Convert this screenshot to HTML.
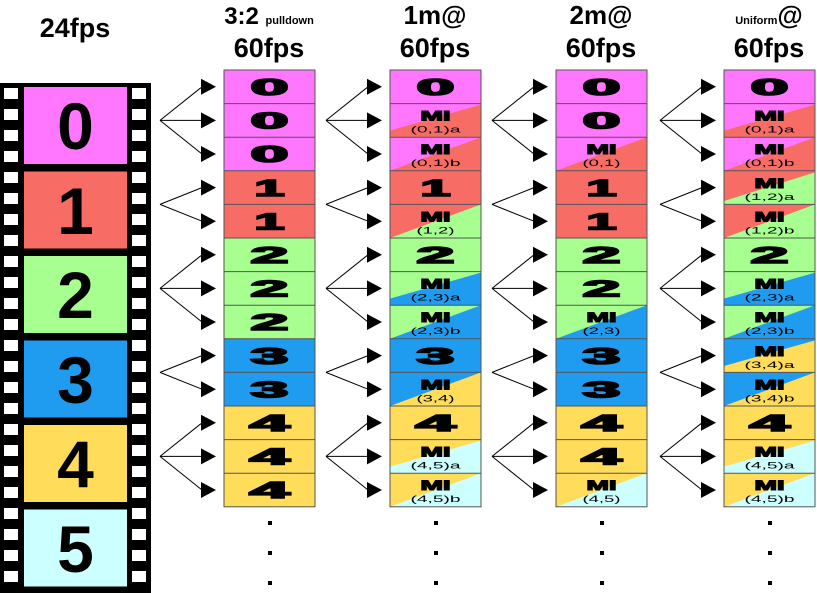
<!DOCTYPE html>
<html><head><meta charset="utf-8"><style>
html,body{margin:0;padding:0;background:#fff;width:817px;height:593px;overflow:hidden}
svg{display:block}
text{font-family:"Liberation Sans",sans-serif;font-weight:bold;text-anchor:middle;fill:#000}
.n{font-size:23px;font-weight:900;stroke:#000;stroke-width:1.6}
.m{font-size:14px;font-weight:900;stroke:#000;stroke-width:1.1}
.s{font-size:9px;font-weight:normal}
.f{font-size:66px}
.t{font-size:27px}
</style></head><body>
<svg width="817" height="593" viewBox="0 0 817 593" xmlns="http://www.w3.org/2000/svg">
<defs>
<g id="f3">
<path d="M0,0 L42,-33.6 M0,0 L42,0 M0,0 L42,33.6" stroke="#000" stroke-width="1" fill="none"/>
<path d="M41,-41.6 L56,-33.6 L41,-25.6 Z M41,-8 L56,0 L41,8 Z M41,25.6 L56,33.6 L41,41.6 Z" fill="#000"/>
</g>
<g id="f2">
<path d="M0,0 L42,-16.8 M0,0 L42,16.8" stroke="#000" stroke-width="1" fill="none"/>
<path d="M41,-24.8 L56,-16.8 L41,-8.8 Z M41,8.8 L56,16.8 L41,24.8 Z" fill="#000"/>
</g>
<g id="fans">
<use href="#f3" x="0" y="120.4"/>
<use href="#f2" x="0" y="204.4"/>
<use href="#f3" x="0" y="288.4"/>
<use href="#f2" x="0" y="372.4"/>
<use href="#f3" x="0" y="456.4"/>
</g>
</defs>
<!-- titles -->
<text class="t" x="75" y="37">24fps</text>
<text x="269" y="24"><tspan font-size="24">3:2 </tspan><tspan font-size="11">pulldown</tspan></text>
<text class="t" x="269" y="57">60fps</text>
<text font-size="26" x="435" y="24">1m@</text>
<text class="t" x="435" y="57">60fps</text>
<text font-size="26" x="601" y="24">2m@</text>
<text class="t" x="601" y="57">60fps</text>
<text x="769" y="24"><tspan font-size="11">Uniform</tspan><tspan font-size="26">@</tspan></text>
<text class="t" x="769" y="57">60fps</text>

<!-- film strip -->
<rect x="0" y="83" width="151" height="510" fill="#000"/>
<g fill="#fff">
<rect x="4" y="88" width="14" height="11"/><rect x="4" y="109" width="14" height="11"/><rect x="4" y="130" width="14" height="11"/><rect x="4" y="151" width="14" height="11"/><rect x="4" y="172" width="14" height="11"/><rect x="4" y="193" width="14" height="11"/><rect x="4" y="214" width="14" height="11"/><rect x="4" y="235" width="14" height="11"/><rect x="4" y="256" width="14" height="11"/><rect x="4" y="277" width="14" height="11"/><rect x="4" y="298" width="14" height="11"/><rect x="4" y="319" width="14" height="11"/><rect x="4" y="340" width="14" height="11"/><rect x="4" y="361" width="14" height="11"/><rect x="4" y="382" width="14" height="11"/><rect x="4" y="403" width="14" height="11"/><rect x="4" y="424" width="14" height="11"/><rect x="4" y="445" width="14" height="11"/><rect x="4" y="466" width="14" height="11"/><rect x="4" y="487" width="14" height="11"/><rect x="4" y="508" width="14" height="11"/><rect x="4" y="529" width="14" height="11"/><rect x="4" y="550" width="14" height="11"/><rect x="4" y="571" width="14" height="11"/>
<rect x="132" y="88" width="14" height="11"/><rect x="132" y="109" width="14" height="11"/><rect x="132" y="130" width="14" height="11"/><rect x="132" y="151" width="14" height="11"/><rect x="132" y="172" width="14" height="11"/><rect x="132" y="193" width="14" height="11"/><rect x="132" y="214" width="14" height="11"/><rect x="132" y="235" width="14" height="11"/><rect x="132" y="256" width="14" height="11"/><rect x="132" y="277" width="14" height="11"/><rect x="132" y="298" width="14" height="11"/><rect x="132" y="319" width="14" height="11"/><rect x="132" y="340" width="14" height="11"/><rect x="132" y="361" width="14" height="11"/><rect x="132" y="382" width="14" height="11"/><rect x="132" y="403" width="14" height="11"/><rect x="132" y="424" width="14" height="11"/><rect x="132" y="445" width="14" height="11"/><rect x="132" y="466" width="14" height="11"/><rect x="132" y="487" width="14" height="11"/><rect x="132" y="508" width="14" height="11"/><rect x="132" y="529" width="14" height="11"/><rect x="132" y="550" width="14" height="11"/><rect x="132" y="571" width="14" height="11"/>
</g>
<rect x="24" y="87" width="103" height="77" fill="#ff77ff"/>
<rect x="24" y="171.5" width="103" height="77" fill="#f76d66"/>
<rect x="24" y="256" width="103" height="77" fill="#a6ff8f"/>
<rect x="24" y="340.5" width="103" height="77" fill="#1f9bef"/>
<rect x="24" y="425" width="103" height="77" fill="#ffdc5a"/>
<rect x="24" y="509.5" width="103" height="77" fill="#ccffff"/>
<text class="f" x="75.5" y="149">0</text>
<text class="f" x="75.5" y="234">1</text>
<text class="f" x="75.5" y="318">2</text>
<text class="f" x="75.5" y="403">3</text>
<text class="f" x="75.5" y="487">4</text>
<text class="f" x="75.5" y="572">5</text>

<!-- fans -->
<use href="#fans" x="160" y="0"/>
<use href="#fans" x="326" y="0"/>
<use href="#fans" x="492" y="0"/>
<use href="#fans" x="660" y="0"/>

<!-- Column 1 -->
<g transform="translate(224,0)">
<rect y="70" width="91" height="100.8" fill="#ff77ff"/>
<rect y="170.8" width="91" height="67.2" fill="#f76d66"/>
<rect y="238" width="91" height="100.8" fill="#a6ff8f"/>
<rect y="338.8" width="91" height="67.2" fill="#1f9bef"/>
<rect y="406" width="91" height="100.8" fill="#ffdc5a"/>
<text class="n" x="45.5" y="95" textLength="38" lengthAdjust="spacingAndGlyphs">0</text>
<text class="n" x="45.5" y="128.6" textLength="38" lengthAdjust="spacingAndGlyphs">0</text>
<text class="n" x="45.5" y="162.2" textLength="38" lengthAdjust="spacingAndGlyphs">0</text>
<text class="n" x="45.5" y="195.8" textLength="30" lengthAdjust="spacingAndGlyphs">1</text>
<text class="n" x="45.5" y="229.4" textLength="30" lengthAdjust="spacingAndGlyphs">1</text>
<text class="n" x="45.5" y="263" textLength="38" lengthAdjust="spacingAndGlyphs">2</text>
<text class="n" x="45.5" y="296.6" textLength="38" lengthAdjust="spacingAndGlyphs">2</text>
<text class="n" x="45.5" y="330.2" textLength="38" lengthAdjust="spacingAndGlyphs">2</text>
<text class="n" x="45.5" y="363.8" textLength="38" lengthAdjust="spacingAndGlyphs">3</text>
<text class="n" x="45.5" y="397.4" textLength="38" lengthAdjust="spacingAndGlyphs">3</text>
<text class="n" x="45.5" y="431" textLength="40" lengthAdjust="spacingAndGlyphs">4</text>
<text class="n" x="45.5" y="464.6" textLength="40" lengthAdjust="spacingAndGlyphs">4</text>
<text class="n" x="45.5" y="498.2" textLength="40" lengthAdjust="spacingAndGlyphs">4</text>
</g>

<!-- Column 2 -->
<g transform="translate(390,0)">
<rect y="70" width="91" height="100.8" fill="#ff77ff"/>
<rect y="170.8" width="91" height="67.2" fill="#f76d66"/>
<rect y="238" width="91" height="100.8" fill="#a6ff8f"/>
<rect y="338.8" width="91" height="67.2" fill="#1f9bef"/>
<rect y="406" width="91" height="100.8" fill="#ffdc5a"/>
<polygon points="0,130.6 91,104.6 91,137.2 0,137.2" fill="#f76d66"/>
<polygon points="0,170.8 91,137.2 91,170.8" fill="#f76d66"/>
<polygon points="0,238 91,204.4 91,238" fill="#a6ff8f"/>
<polygon points="0,298.6 91,272.6 91,305.2 0,305.2" fill="#1f9bef"/>
<polygon points="0,338.8 91,305.2 91,338.8" fill="#1f9bef"/>
<polygon points="0,406 91,372.4 91,406" fill="#ffdc5a"/>
<polygon points="0,466.6 91,440.6 91,473.2 0,473.2" fill="#ccffff"/>
<polygon points="0,506.8 91,473.2 91,506.8" fill="#ccffff"/>
<text class="n" x="45.5" y="95" textLength="38" lengthAdjust="spacingAndGlyphs">0</text>
<text class="m" x="45.5" y="120.6" textLength="30" lengthAdjust="spacingAndGlyphs">MI</text><text class="s" x="45.5" y="132.6" textLength="50" lengthAdjust="spacingAndGlyphs">(0,1)a</text>
<text class="m" x="45.5" y="154.2" textLength="30" lengthAdjust="spacingAndGlyphs">MI</text><text class="s" x="45.5" y="166.2" textLength="50" lengthAdjust="spacingAndGlyphs">(0,1)b</text>
<text class="n" x="45.5" y="195.8" textLength="30" lengthAdjust="spacingAndGlyphs">1</text>
<text class="m" x="45.5" y="221.4" textLength="30" lengthAdjust="spacingAndGlyphs">MI</text><text class="s" x="45.5" y="233.4" textLength="38" lengthAdjust="spacingAndGlyphs">(1,2)</text>
<text class="n" x="45.5" y="263" textLength="38" lengthAdjust="spacingAndGlyphs">2</text>
<text class="m" x="45.5" y="288.6" textLength="30" lengthAdjust="spacingAndGlyphs">MI</text><text class="s" x="45.5" y="300.6" textLength="50" lengthAdjust="spacingAndGlyphs">(2,3)a</text>
<text class="m" x="45.5" y="322.2" textLength="30" lengthAdjust="spacingAndGlyphs">MI</text><text class="s" x="45.5" y="334.2" textLength="50" lengthAdjust="spacingAndGlyphs">(2,3)b</text>
<text class="n" x="45.5" y="363.8" textLength="38" lengthAdjust="spacingAndGlyphs">3</text>
<text class="m" x="45.5" y="389.4" textLength="30" lengthAdjust="spacingAndGlyphs">MI</text><text class="s" x="45.5" y="401.4" textLength="38" lengthAdjust="spacingAndGlyphs">(3,4)</text>
<text class="n" x="45.5" y="431" textLength="40" lengthAdjust="spacingAndGlyphs">4</text>
<text class="m" x="45.5" y="456.6" textLength="30" lengthAdjust="spacingAndGlyphs">MI</text><text class="s" x="45.5" y="468.6" textLength="50" lengthAdjust="spacingAndGlyphs">(4,5)a</text>
<text class="m" x="45.5" y="490.2" textLength="30" lengthAdjust="spacingAndGlyphs">MI</text><text class="s" x="45.5" y="502.2" textLength="50" lengthAdjust="spacingAndGlyphs">(4,5)b</text>
</g>

<!-- Column 3 -->
<g transform="translate(556,0)">
<rect y="70" width="91" height="100.8" fill="#ff77ff"/>
<rect y="170.8" width="91" height="67.2" fill="#f76d66"/>
<rect y="238" width="91" height="100.8" fill="#a6ff8f"/>
<rect y="338.8" width="91" height="67.2" fill="#1f9bef"/>
<rect y="406" width="91" height="100.8" fill="#ffdc5a"/>
<polygon points="0,170.8 91,137.2 91,170.8" fill="#f76d66"/>
<polygon points="0,338.8 91,305.2 91,338.8" fill="#1f9bef"/>
<polygon points="0,506.8 91,473.2 91,506.8" fill="#ccffff"/>
<text class="n" x="45.5" y="95" textLength="38" lengthAdjust="spacingAndGlyphs">0</text>
<text class="n" x="45.5" y="128.6" textLength="38" lengthAdjust="spacingAndGlyphs">0</text>
<text class="m" x="45.5" y="154.2" textLength="30" lengthAdjust="spacingAndGlyphs">MI</text><text class="s" x="45.5" y="166.2" textLength="38" lengthAdjust="spacingAndGlyphs">(0,1)</text>
<text class="n" x="45.5" y="195.8" textLength="30" lengthAdjust="spacingAndGlyphs">1</text>
<text class="n" x="45.5" y="229.4" textLength="30" lengthAdjust="spacingAndGlyphs">1</text>
<text class="n" x="45.5" y="263" textLength="38" lengthAdjust="spacingAndGlyphs">2</text>
<text class="n" x="45.5" y="296.6" textLength="38" lengthAdjust="spacingAndGlyphs">2</text>
<text class="m" x="45.5" y="322.2" textLength="30" lengthAdjust="spacingAndGlyphs">MI</text><text class="s" x="45.5" y="334.2" textLength="38" lengthAdjust="spacingAndGlyphs">(2,3)</text>
<text class="n" x="45.5" y="363.8" textLength="38" lengthAdjust="spacingAndGlyphs">3</text>
<text class="n" x="45.5" y="397.4" textLength="38" lengthAdjust="spacingAndGlyphs">3</text>
<text class="n" x="45.5" y="431" textLength="40" lengthAdjust="spacingAndGlyphs">4</text>
<text class="n" x="45.5" y="464.6" textLength="40" lengthAdjust="spacingAndGlyphs">4</text>
<text class="m" x="45.5" y="490.2" textLength="30" lengthAdjust="spacingAndGlyphs">MI</text><text class="s" x="45.5" y="502.2" textLength="38" lengthAdjust="spacingAndGlyphs">(4,5)</text>
</g>

<!-- Column 4 -->
<g transform="translate(724,0)">
<rect y="70" width="91" height="100.8" fill="#ff77ff"/>
<rect y="170.8" width="91" height="67.2" fill="#f76d66"/>
<rect y="238" width="91" height="100.8" fill="#a6ff8f"/>
<rect y="338.8" width="91" height="67.2" fill="#1f9bef"/>
<rect y="406" width="91" height="100.8" fill="#ffdc5a"/>
<polygon points="0,130.6 91,104.6 91,137.2 0,137.2" fill="#f76d66"/>
<polygon points="0,170.8 91,137.2 91,170.8" fill="#f76d66"/>
<polygon points="0,201 91,172.4 91,204.4 0,204.4" fill="#a6ff8f"/>
<polygon points="0,238 91,204.4 91,238" fill="#a6ff8f"/>
<polygon points="0,298.6 91,272.6 91,305.2 0,305.2" fill="#1f9bef"/>
<polygon points="0,338.8 91,305.2 91,338.8" fill="#1f9bef"/>
<polygon points="0,366 91,340.4 91,372.4 0,372.4" fill="#ffdc5a"/>
<polygon points="0,406 91,372.4 91,406" fill="#ffdc5a"/>
<polygon points="0,466.6 91,440.6 91,473.2 0,473.2" fill="#ccffff"/>
<polygon points="0,506.8 91,473.2 91,506.8" fill="#ccffff"/>
<text class="n" x="45.5" y="95" textLength="38" lengthAdjust="spacingAndGlyphs">0</text>
<text class="m" x="45.5" y="120.6" textLength="30" lengthAdjust="spacingAndGlyphs">MI</text><text class="s" x="45.5" y="132.6" textLength="50" lengthAdjust="spacingAndGlyphs">(0,1)a</text>
<text class="m" x="45.5" y="154.2" textLength="30" lengthAdjust="spacingAndGlyphs">MI</text><text class="s" x="45.5" y="166.2" textLength="50" lengthAdjust="spacingAndGlyphs">(0,1)b</text>
<text class="m" x="45.5" y="187.8" textLength="30" lengthAdjust="spacingAndGlyphs">MI</text><text class="s" x="45.5" y="199.8" textLength="50" lengthAdjust="spacingAndGlyphs">(1,2)a</text>
<text class="m" x="45.5" y="221.4" textLength="30" lengthAdjust="spacingAndGlyphs">MI</text><text class="s" x="45.5" y="233.4" textLength="50" lengthAdjust="spacingAndGlyphs">(1,2)b</text>
<text class="n" x="45.5" y="263" textLength="38" lengthAdjust="spacingAndGlyphs">2</text>
<text class="m" x="45.5" y="288.6" textLength="30" lengthAdjust="spacingAndGlyphs">MI</text><text class="s" x="45.5" y="300.6" textLength="50" lengthAdjust="spacingAndGlyphs">(2,3)a</text>
<text class="m" x="45.5" y="322.2" textLength="30" lengthAdjust="spacingAndGlyphs">MI</text><text class="s" x="45.5" y="334.2" textLength="50" lengthAdjust="spacingAndGlyphs">(2,3)b</text>
<text class="m" x="45.5" y="355.8" textLength="30" lengthAdjust="spacingAndGlyphs">MI</text><text class="s" x="45.5" y="367.8" textLength="50" lengthAdjust="spacingAndGlyphs">(3,4)a</text>
<text class="m" x="45.5" y="389.4" textLength="30" lengthAdjust="spacingAndGlyphs">MI</text><text class="s" x="45.5" y="401.4" textLength="50" lengthAdjust="spacingAndGlyphs">(3,4)b</text>
<text class="n" x="45.5" y="431" textLength="40" lengthAdjust="spacingAndGlyphs">4</text>
<text class="m" x="45.5" y="456.6" textLength="30" lengthAdjust="spacingAndGlyphs">MI</text><text class="s" x="45.5" y="468.6" textLength="50" lengthAdjust="spacingAndGlyphs">(4,5)a</text>
<text class="m" x="45.5" y="490.2" textLength="30" lengthAdjust="spacingAndGlyphs">MI</text><text class="s" x="45.5" y="502.2" textLength="50" lengthAdjust="spacingAndGlyphs">(4,5)b</text>
</g>

<!-- cell borders -->
<g fill="none" stroke="#555" stroke-width="1">
<g><rect x="224" y="70" width="91" height="436.8"/><path d="M224,103.6H315M224,137.2H315M224,170.8H315M224,204.4H315M224,238H315M224,271.6H315M224,305.2H315M224,338.8H315M224,372.4H315M224,406H315M224,439.6H315M224,473.2H315"/></g>
<g transform="translate(166,0)"><rect x="224" y="70" width="91" height="436.8"/><path d="M224,103.6H315M224,137.2H315M224,170.8H315M224,204.4H315M224,238H315M224,271.6H315M224,305.2H315M224,338.8H315M224,372.4H315M224,406H315M224,439.6H315M224,473.2H315"/></g>
<g transform="translate(332,0)"><rect x="224" y="70" width="91" height="436.8"/><path d="M224,103.6H315M224,137.2H315M224,170.8H315M224,204.4H315M224,238H315M224,271.6H315M224,305.2H315M224,338.8H315M224,372.4H315M224,406H315M224,439.6H315M224,473.2H315"/></g>
<g transform="translate(500,0)"><rect x="224" y="70" width="91" height="436.8"/><path d="M224,103.6H315M224,137.2H315M224,170.8H315M224,204.4H315M224,238H315M224,271.6H315M224,305.2H315M224,338.8H315M224,372.4H315M224,406H315M224,439.6H315M224,473.2H315"/></g>
</g>

<!-- dots -->
<g fill="#000">
<rect x="268" y="521" width="4" height="4"/><rect x="268" y="551" width="4" height="4"/><rect x="268" y="581" width="4" height="4"/>
<rect x="434" y="521" width="4" height="4"/><rect x="434" y="551" width="4" height="4"/><rect x="434" y="581" width="4" height="4"/>
<rect x="600" y="521" width="4" height="4"/><rect x="600" y="551" width="4" height="4"/><rect x="600" y="581" width="4" height="4"/>
<rect x="768" y="521" width="4" height="4"/><rect x="768" y="551" width="4" height="4"/><rect x="768" y="581" width="4" height="4"/>
</g>
</svg>
</body></html>
